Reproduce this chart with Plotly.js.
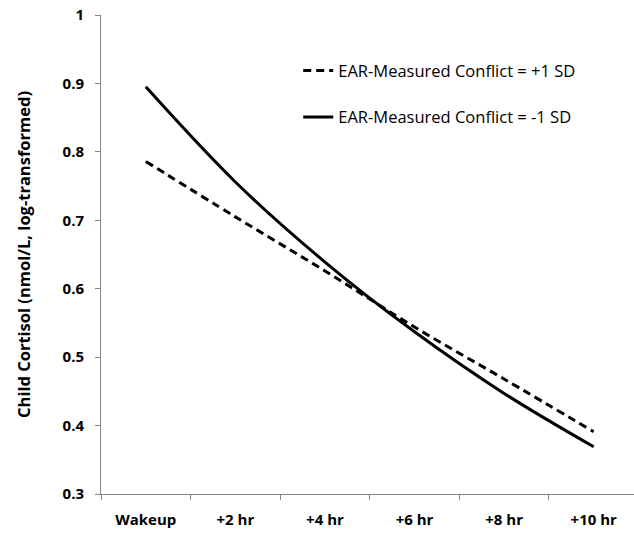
<!DOCTYPE html>
<html>
<head>
<meta charset="utf-8">
<script src="https://cdn.plot.ly/plotly-3.0.1.min.js"></script>
<style>html,body{margin:0;padding:0;background:#fff;}#chart{width:634px;height:535px;}</style>
</head>
<body>
<div id="chart"></div>
<script>
var categories = ["Wakeup", "+2 hr", "+4 hr", "+6 hr", "+8 hr", "+10 hr"];
var highConflict = [0.786, 0.705, 0.626, 0.544, 0.468, 0.391];
var lowConflict = [0.895, 0.756, 0.639, 0.537, 0.447, 0.369];
var seriesNames = ["EAR-Measured Conflict = +1 SD", "EAR-Measured Conflict = -1 SD"];
var yTicks = [0.3, 0.4, 0.5, 0.6, 0.7, 0.8, 0.9, 1];
var yTickText = ["0.3", "0.4", "0.5", "0.6", "0.7", "0.8", "0.9", "1"];

var fontFam = "'Open Sans', sans-serif";

var traces = [
  {
    x: categories, y: highConflict, name: seriesNames[0], type: "scatter", mode: "lines",
    line: {color: "#000", width: 3, dash: "8px,5px", shape: "spline", smoothing: 1},
    legendgroup: "a"
  },
  {
    x: categories, y: lowConflict, name: seriesNames[1], type: "scatter", mode: "lines",
    line: {color: "#000", width: 3, shape: "spline", smoothing: 1},
    legendgroup: "b"
  }
];

var layout = {
  width: 634, height: 535,
  margin: {l: 101, r: 0, t: 15, b: 41},
  paper_bgcolor: "#fff", plot_bgcolor: "#fff",
  font: {family: fontFam, color: "#000", size: 14},
  showlegend: true,
  legend: {
    x: 0.37, y: 0.92, xanchor: "left", yanchor: "top",
    bgcolor: "rgba(0,0,0,0)",
    font: {family: fontFam, size: 16.5, color: "#000"},
    traceorder: "grouped", tracegroupgap: 22,
    itemwidth: 30
  },
  xaxis: {
    type: "category",
    range: [-0.5, 5.45],
    showgrid: false, zeroline: false,
    showline: true, linecolor: "#868686", linewidth: 1,
    ticks: "outside", tickson: "boundaries", ticklen: 5, tickcolor: "#868686",
    tickfont: {family: fontFam, size: 15, color: "#000", weight: "bold"},
    ticklabelstandoff: 12,
    fixedrange: true
  },
  yaxis: {
    range: [0.3, 1],
    tickvals: yTicks, ticktext: yTickText,
    showgrid: false, zeroline: false,
    showline: true, linecolor: "#868686", linewidth: 1,
    ticks: "outside", ticklen: 5, tickcolor: "#868686",
    tickfont: {family: fontFam, size: 15, color: "#000", weight: "bold"},
    ticklabelstandoff: 8,
    title: {text: "Child Cortisol (nmol/L, log-transformed)", font: {family: fontFam, size: 16.5, color: "#000", weight: "bold"}, standoff: 27},
    fixedrange: true
  }
};

Plotly.newPlot("chart", traces, layout, {displayModeBar: false, staticPlot: true});
</script>
</body>
</html>
